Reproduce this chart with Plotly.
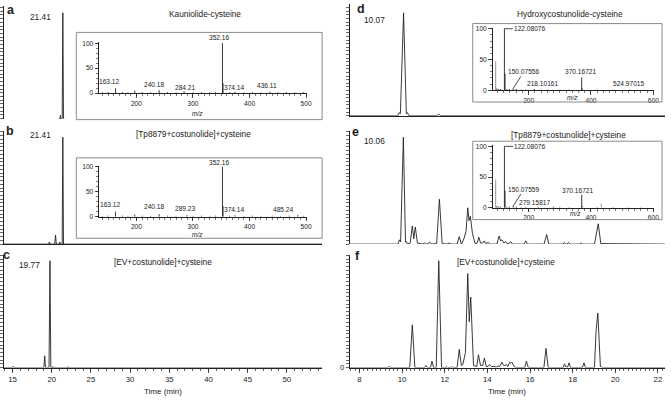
import plotly.graph_objects as go

# ---------------- data ----------------
# chromatogram traces: (time in min, relative signal)
a_trace = [(20.9, 0), (21.05, 0), (21.1, 0.03), (21.15, 0), (21.33, 0), (21.41, 1.0), (21.5, 0), (21.6, 0)]
b_trace = [(13.9, 0), (19.6, 0), (19.7, 0.02), (19.8, 0), (20.38, 0), (20.48, 0.085), (20.58, 0),
           (20.95, 0), (21.02, 0.02), (21.08, 0), (21.33, 0), (21.41, 1.0), (21.5, 0), (54.5, 0)]
c_trace = [(13.9, 0), (15.0, 0), (15.1, 0.012), (15.2, 0), (19.0, 0), (19.1, 0.11), (19.2, 0),
           (19.65, 0), (19.77, 1.0), (19.88, 0), (20.1, 0), (20.15, 0.01), (20.2, 0),
           (22.0, 0), (22.05, 0.008), (22.1, 0), (54.5, 0)]
d_trace = [(7.55, 0), (9.8, 0), (9.86, 0.03), (9.92, 0.02), (10.07, 1.0), (10.2, 0.02), (10.25, 0.03),
           (10.32, 0), (11.62, 0), (11.72, 0.015), (11.82, 0), (22.33, 0)]
e_trace = [(7.55, 0), (9.8, 0), (9.88, 0.04), (9.93, 0.02), (10.06, 1.0), (10.16, 0.02), (10.2, 0.025),
           (10.25, 0), (10.38, 0.01), (10.48, 0.17), (10.55, 0.05), (10.62, 0.16), (10.72, 0.01),
           (10.95, 0), (11.05, 0.01), (11.12, 0), (11.22, 0.005), (11.3, 0.02), (11.38, 0),
           (11.62, 0.005), (11.75, 0.42), (11.88, 0.005), (12.1, 0), (12.2, 0.01), (12.3, 0),
           (12.58, 0), (12.68, 0.07), (12.78, 0), (12.9, 0.05), (13.0, 0.12), (13.08, 0.34),
           (13.14, 0.22), (13.2, 0.26), (13.3, 0.1), (13.42, 0.005), (13.52, 0.01), (13.6, 0.065),
           (13.68, 0.01), (13.78, 0.01), (13.85, 0.03), (13.92, 0.005), (14.0, 0.01), (14.05, 0.015),
           (14.1, 0), (14.45, 0), (14.55, 0.076), (14.62, 0.03), (14.68, 0.04), (14.78, 0.01),
           (14.85, 0.025), (14.92, 0.005), (15.02, 0.01), (15.1, 0.02), (15.18, 0), (15.72, 0),
           (15.8, 0.03), (15.88, 0), (16.66, 0), (16.78, 0.09), (16.88, 0), (17.54, 0), (17.6, 0.015),
           (17.68, 0), (17.74, 0), (17.8, 0.015), (17.88, 0), (18.34, 0), (18.4, 0.01), (18.46, 0),
           (19.02, 0), (19.1, 0.1), (19.2, 0.19), (19.32, 0.005), (21.44, 0), (21.5, 0.005),
           (21.56, 0), (22.33, 0)]
f_trace = [(7.55, 0), (9.3, 0), (9.38, 0.01), (9.46, 0), (10.36, 0), (10.48, 0.40), (10.6, 0),
           (11.05, 0), (11.12, 0.02), (11.2, 0), (11.33, 0), (11.4, 0.06), (11.48, 0), (11.6, 0),
           (11.72, 1.0), (11.85, 0), (12.05, 0), (12.1, 0.01), (12.15, 0), (12.3, 0), (12.35, 0.01),
           (12.4, 0), (12.58, 0), (12.68, 0.17), (12.78, 0.02), (12.85, 0.03), (12.97, 0.14),
           (13.08, 0.88), (13.15, 0.43), (13.22, 0.66), (13.35, 0.02), (13.5, 0.01), (13.58, 0.12),
           (13.68, 0.02), (13.78, 0.02), (13.86, 0.09), (13.95, 0.01), (14.03, 0.01), (14.1, 0.03),
           (14.2, 0.01), (14.3, 0.01), (14.42, 0.005), (14.5, 0.015), (14.58, 0.01), (14.68, 0.05),
           (14.76, 0.02), (14.82, 0.02), (14.9, 0.03), (14.96, 0.01), (15.05, 0.05), (15.1, 0.04),
           (15.15, 0.05), (15.25, 0.01), (15.35, 0), (15.75, 0), (15.83, 0.06), (15.92, 0),
           (16.65, 0), (16.75, 0.18), (16.85, 0), (17.55, 0), (17.62, 0.035), (17.68, 0.005),
           (17.76, 0.005), (17.83, 0.045), (17.9, 0), (18.45, 0), (18.53, 0.045), (18.6, 0),
           (19.02, 0), (19.1, 0.35), (19.18, 0.51), (19.3, 0.01), (19.4, 0), (22.33, 0)]

# mass spectra (m/z, relative abundance %)
ms_a_mz = [140, 150, 163.12, 175, 185, 197, 210, 225, 240.18, 255, 270, 284.21, 300, 315, 330, 340,
           352.16, 353.16, 365, 374.14, 390, 405, 420, 436.11, 450, 465, 480, 495]
ms_a_int = [1.5, 2, 10, 2, 1.5, 5, 2, 1.5, 6, 2, 1.5, 4, 1.5, 2, 1.5, 2,
            100, 20, 2, 3, 1.5, 2, 1.5, 3, 1.5, 2, 1.5, 2]
ms_b_mz = [140, 150, 163.12, 175, 185, 197, 210, 225, 240.18, 255, 270, 289.23, 300, 315, 330, 340,
           352.16, 353.16, 365, 374.14, 390, 405, 420, 440, 455, 470, 485.24, 495]
ms_b_int = [1.5, 2, 10, 2, 1.5, 4, 2, 1.5, 5, 2, 1.5, 3, 1.5, 2, 1.5, 2,
            100, 21, 2, 3, 1.5, 2, 1.5, 2, 1.5, 2, 3, 1.5]
ms_d_mz = [98, 104, 110, 122.08, 124.08, 130, 138, 150.08, 160, 176, 190, 218.10, 240, 262, 300, 330,
           370.17, 371.17, 420, 470, 524.97, 560]
ms_d_int = [3, 2, 2, 100, 27, 2, 2, 3, 2, 1, 1, 2, 1, 1, 1, 1, 21, 3, 1, 1, 1, 0.5]
ms_d_grey_mz = [94]
ms_d_grey_int = [47]
ms_e_mz = [98, 104, 110, 122.08, 124.08, 130, 138, 150.08, 160, 176, 190, 230, 279.16, 300, 330,
           370.17, 371.17, 420, 470, 520, 560]
ms_e_int = [3, 2, 2, 100, 28, 2, 2, 3, 2, 1, 1, 1, 2, 1, 1, 21, 3, 1, 1, 0.5, 0.5]
ms_e_grey_mz = [94, 433]
ms_e_grey_int = [46, 7]

left_ticks = [15, 20, 25, 30, 35, 40, 45, 50]
right_ticks = [8, 10, 12, 14, 16, 18, 20, 22]
ms_ab_ticks = [200, 300, 400, 500]
ms_de_ticks = [200, 400, 600]
ms_y_ticks = [0, 50, 100]

# ---------------- helpers ----------------
W, H = 671, 403
FONT = "Arial, 'Liberation Sans', sans-serif"
INK = "#222222"


def fx(p):
    return p / W


def fy(p):
    return 1 - p / H


def split(pairs):
    return [p[0] for p in pairs], [p[1] for p in pairs]


def sticks(mz, inten):
    xs, ys = [], []
    for m, i in zip(mz, inten):
        xs += [m, m, None]
        ys += [0, i, None]
    return xs, ys


def ax_key(kind, n):
    return kind + ("axis" if n == 1 else f"axis{n}")


def ref(kind, n):
    return kind if n == 1 else f"{kind}{n}"


fig = go.Figure()
layout = {}

base_axis = dict(showgrid=False, zeroline=False, linecolor=INK, linewidth=1, tickcolor=INK,
                 tickwidth=0.8, fixedrange=True, ticklabeloverflow="allow")

ytick_vals = [round(i * 0.035, 4) for i in range(31)]


def main_panel(n, trace, xdom, ydom, xrng, yrng, xmode, ylabel0=False):
    t, s = split(trace)
    fig.add_trace(go.Scatter(x=t, y=s, mode="lines", line=dict(color=INK, width=0.9),
                             xaxis=ref("x", n), yaxis=ref("y", n), hoverinfo="skip"))
    xa = dict(base_axis, domain=[fx(xdom[0]), fx(xdom[1])], range=xrng, anchor=ref("y", n))
    if xmode == "none":
        xa.update(showline=False, ticks="", showticklabels=False)
    elif xmode == "line":
        xa.update(showline=True, ticks="", showticklabels=False)
    else:
        vals, minor_dt = xmode
        xa.update(showline=True, ticks="outside", ticklen=4, tickmode="array", tickvals=vals,
                  ticktext=[str(v) for v in vals],
                  tickfont=dict(family=FONT, size=7.8, color=INK),
                  minor=dict(ticks="outside", ticklen=2.5, dtick=minor_dt, tick0=vals[0],
                             tickcolor=INK, tickwidth=0.7, showgrid=False))
    layout[ax_key("x", n)] = xa
    ya = dict(base_axis, domain=[fy(ydom[1]), fy(ydom[0])], range=yrng, anchor=ref("x", n),
              showline=True, ticks="outside", ticklen=3, tickwidth=0.7, tickmode="array",
              tickvals=ytick_vals,
              ticktext=["0" if (ylabel0 and v == 0) else "" for v in ytick_vals],
              tickfont=dict(family=FONT, size=7.8, color=INK))
    layout[ax_key("y", n)] = ya


LX = [4, 325]
LR = [13.9, 54.5]
RX = [353, 671]
RR = [7.55, 22.33]
main_panel(1, a_trace, LX, [3, 118], LR, [0, 1.065], "none")
main_panel(2, b_trace, LX, [131, 246], LR, [0, 1.055], "line")
main_panel(3, c_trace, LX, [257, 372], LR, [0, 1.055], (left_ticks, 1))
main_panel(4, d_trace, RX, [1, 115], RR, [0, 1.086], "line")
main_panel(5, e_trace, RX, [131, 246], RR, [0, 1.055], "none")
main_panel(6, f_trace, RX, [257, 372], RR, [0, 1.055], (right_ticks, 0.2), ylabel0=True)


def inset(n, mz, inten, grey_mz, grey_int, xdom, ydom, xrng, xticks, minor_dt):
    xs, ys = sticks(mz, inten)
    fig.add_trace(go.Scatter(x=xs, y=ys, mode="lines", line=dict(color=INK, width=0.9),
                             xaxis=ref("x", n), yaxis=ref("y", n), hoverinfo="skip"))
    if grey_mz:
        gx, gy = sticks(grey_mz, grey_int)
        fig.add_trace(go.Scatter(x=gx, y=gy, mode="lines", line=dict(color="#9a9a9a", width=1),
                                 xaxis=ref("x", n), yaxis=ref("y", n), hoverinfo="skip"))
    tf = dict(family=FONT, size=6.6, color=INK)
    layout[ax_key("x", n)] = dict(base_axis, domain=[fx(xdom[0]), fx(xdom[1])], range=xrng,
                                  anchor=ref("y", n), showline=True, ticks="outside", ticklen=3.5,
                                  tickmode="array", tickvals=xticks,
                                  ticktext=[str(v) for v in xticks], tickfont=tf,
                                  minor=dict(ticks="outside", ticklen=2, dtick=minor_dt, tick0=0,
                                             tickcolor=INK, tickwidth=0.6, showgrid=False))
    layout[ax_key("y", n)] = dict(base_axis, domain=[fy(ydom[1]), fy(ydom[0])], range=[0, 102],
                                  anchor=ref("x", n), showline=True, ticks="outside", ticklen=3.5,
                                  tickmode="array", tickvals=ms_y_ticks,
                                  ticktext=[str(v) for v in ms_y_ticks], tickfont=tf,
                                  minor=dict(ticks="outside", ticklen=2, dtick=10, tick0=0,
                                             tickcolor=INK, tickwidth=0.6, showgrid=False))


inset(7, ms_a_mz, ms_a_int, None, None, [100, 310], [40, 92], [134, 502], ms_ab_ticks, 10)
inset(8, ms_b_mz, ms_b_int, None, None, [100, 310], [166, 218], [134, 502], ms_ab_ticks, 10)
inset(9, ms_d_mz, ms_d_int, ms_d_grey_mz, ms_d_grey_int, [497, 659.5], [25, 89], [84, 601], ms_de_ticks, 20)
inset(10, ms_e_mz, ms_e_int, ms_e_grey_mz, ms_e_grey_int, [497, 659.5], [145, 209], [84, 601], ms_de_ticks, 20)

# inset frames
shapes = []
for x0, y0, x1, y1 in [(77, 30, 325, 119), (77, 158, 325, 240), (477, 21, 668, 101), (477, 141, 668, 221)]:
    shapes.append(dict(type="rect", xref="paper", yref="paper", x0=fx(x0), x1=fx(x1),
                       y0=fy(y1), y1=fy(y0), line=dict(color="#8a8a8a", width=1)))

annotations = []


def txt(x, y, s, size=8.3, bold=False, italic=False, anchor="center"):
    if bold:
        s = f"<b>{s}</b>"
    if italic:
        s = f"<i>{s}</i>"
    annotations.append(dict(x=fx(x), y=fy(y), xref="paper", yref="paper", text=s, showarrow=False,
                            xanchor=anchor, yanchor="middle",
                            font=dict(family=FONT, size=size, color=INK)))


# panel letters
for (x, y, s) in [(11, 7, "a"), (10, 131, "b"), (7, 257, "c"), (364, 6, "d"), (359, 132, "e"), (361, 258, "f")]:
    txt(x, y, s, size=12.5, bold=True)

# titles
txt(207, 11, "Kauniolide-cysteine")
txt(195, 134, "[Tp8879+costunolide]+cysteine")
txt(164, 264, "[EV+costunolide]+cysteine")
txt(575, 11, "Hydroxycostunolide-cysteine")
txt(574, 135, "[Tp8879+costunolide]+cysteine")
txt(511, 264, "[EV+costunolide]+cysteine")

# retention time labels
txt(41, 14, "21.41")
txt(41, 135, "21.41")
txt(30, 267, "19.77")
txt(378, 17, "10.07")
txt(378, 141, "10.06")

# axis titles
txt(164.5, 396, "Time (min)", size=8)
txt(512, 396, "Time (min)", size=8)

# m/z labels
MS = 6.6
txt(199, 113, "m/z", size=MS, italic=True)
txt(199, 236, "m/z", size=MS, italic=True)
txt(578, 96, "m/z", size=MS, italic=True)
txt(581, 215, "m/z", size=MS, italic=True)

# MS peak labels
for (x, y, s) in [(110, 80, "163.12"), (156, 83, "240.18"), (187, 86, "284.21"), (221, 35, "352.16"),
                  (237, 86, "374.14"), (269, 84, "436.11"),
                  (112, 206, "163.12"), (156, 208, "240.18"), (187, 210, "289.23"), (221, 163, "352.16"),
                  (237, 211, "374.14"), (286, 211, "485.24"),
                  (548, 82, "218.10161"), (586, 70, "370.16721"), (635, 82, "524.97015"),
                  (540, 204, "279.15817"), (583, 191, "370.16721")]:
    txt(x, y, s, size=MS)


def leader(n, mz, inten, ax, ay, s):
    annotations.append(dict(x=mz, y=inten, xref=ref("x", n), yref=ref("y", n), text=s,
                            showarrow=True, arrowhead=0, arrowwidth=0.8, arrowcolor=INK,
                            ax=ax, ay=ay, font=dict(family=FONT, size=MS, color=INK)))


leader(9, 122.08, 100, 26, 0, "122.08076")
leader(9, 150.08, 3, 11, -17, "150.07556")
leader(10, 122.08, 100, 26, 0, "122.08076")
leader(10, 150.08, 3, 11, -17, "150.07559")

fig.update_layout(**layout)
fig.update_layout(width=W, height=H, margin=dict(l=0, r=0, t=0, b=0), showlegend=False,
                  plot_bgcolor="rgba(0,0,0,0)", paper_bgcolor="white", shapes=shapes,
                  annotations=annotations, font=dict(family=FONT, color=INK), hovermode=False)
fig.write_html("out.html", config={"displayModeBar": False, "staticPlot": True},
               post_script="document.body.style.margin='0';document.body.style.padding='0';"
                           "document.documentElement.style.overflow='hidden';"
                           "document.body.style.cursor='none';")
